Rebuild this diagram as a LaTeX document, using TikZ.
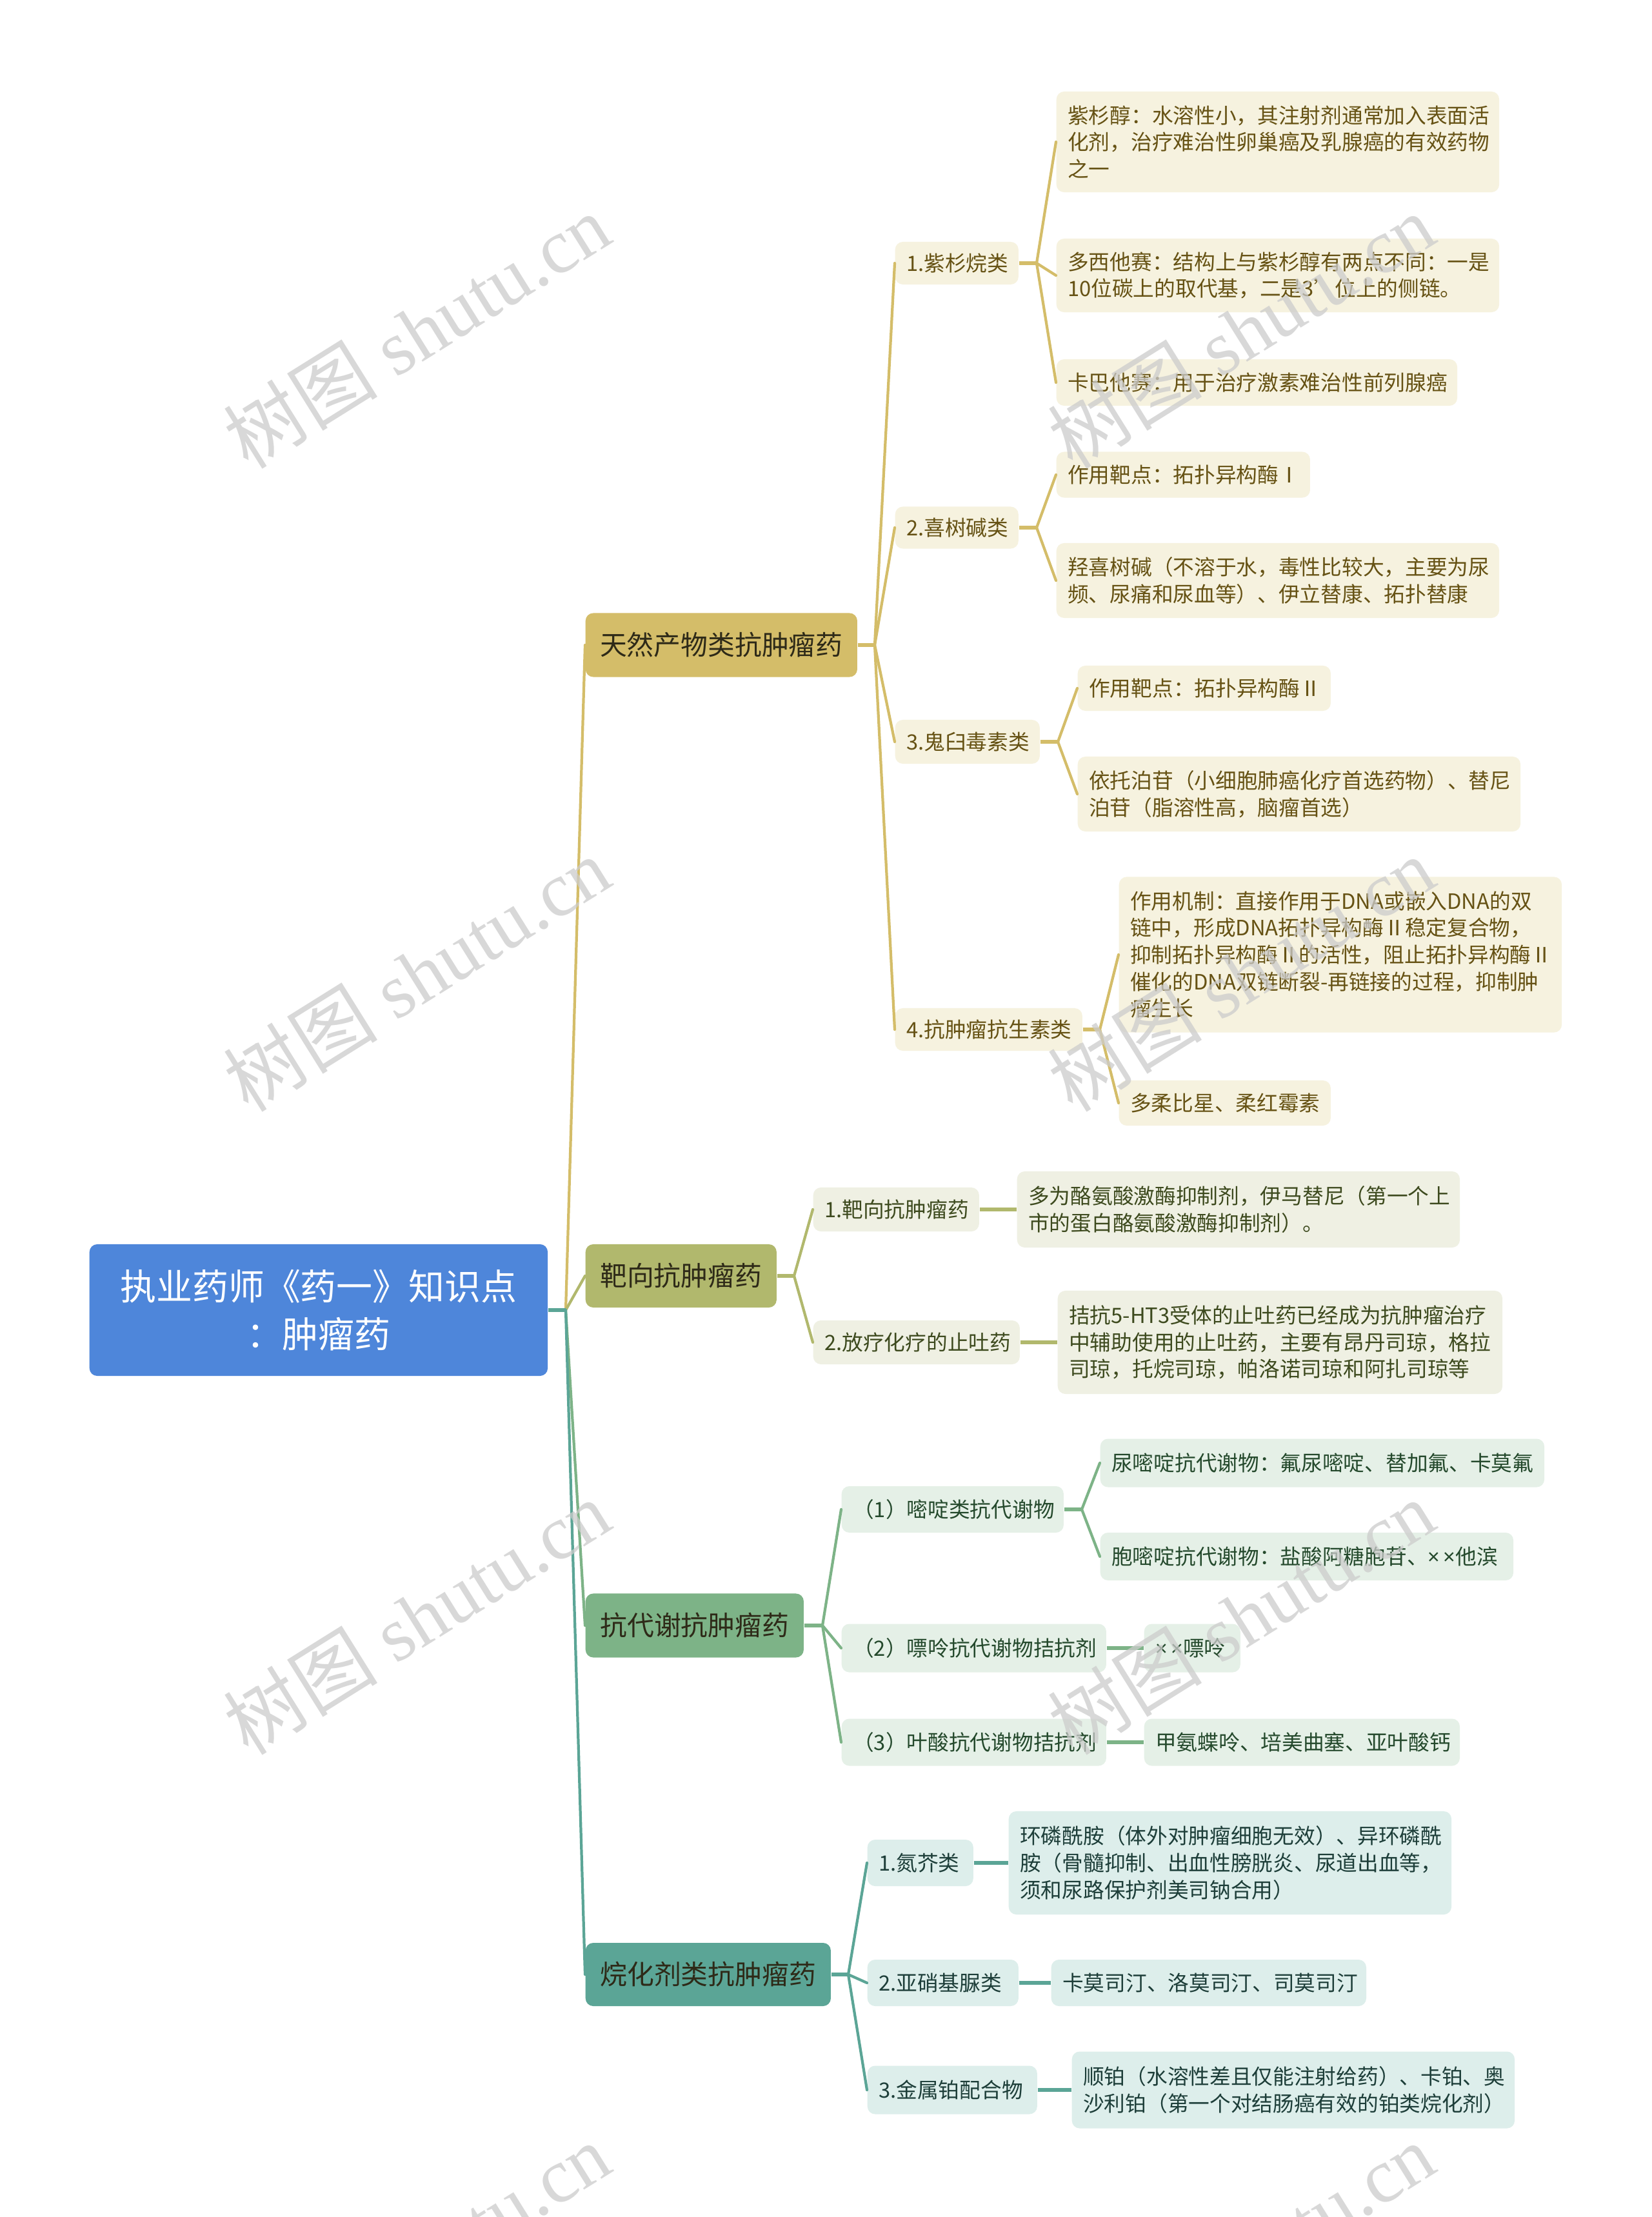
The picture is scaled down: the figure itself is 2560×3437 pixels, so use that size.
\documentclass[tikz,border=0pt]{standalone}
\usepackage{fontspec}
\setmainfont{Noto Sans CJK SC}
\newfontfamily\wmlatin{Liberation Serif}
\newfontfamily\wmcjk{Noto Sans CJK SC}
\newfontfamily\latinf{Noto Sans}
\definecolor{rootc}{HTML}{4E86DA}
\definecolor{goldc}{HTML}{D4BD69}
\definecolor{goldl}{HTML}{F6F2DF}
\definecolor{goldt}{HTML}{665214}
\definecolor{olivec}{HTML}{B1B86D}
\definecolor{olivel}{HTML}{EFF0E3}
\definecolor{olivet}{HTML}{3D4A1E}
\definecolor{greenc}{HTML}{7DB387}
\definecolor{greenl}{HTML}{E5F0E7}
\definecolor{greent}{HTML}{24492C}
\definecolor{tealc}{HTML}{5BA596}
\definecolor{teall}{HTML}{DDEEEB}
\definecolor{tealt}{HTML}{1D3E39}
\definecolor{maint}{HTML}{2E2A18}
\tikzset{
  box/.style={rounded corners=0.12cm, inner ysep=0pt, inner xsep=0.175cm, anchor=west, align=left},
  leaffont/.style={font=\fontsize{9.3}{11.85}\selectfont},
  goldbox/.style={box, leaffont, fill=goldl, text=goldt},
  olivebox/.style={box, leaffont, fill=olivel, text=olivet},
  greenbox/.style={box, leaffont, fill=greenl, text=greent},
  tealbox/.style={box, leaffont, fill=teall, text=tealt},
  mainbox/.style={box, align=center, font=\fontsize{11.9}{14}\selectfont, text=maint},
  conn/.style={line width=1.2pt, line join=round, line cap=round},
  stub/.style={line width=1.6pt, line cap=butt},
  wm/.style={rotate=32, text=black!20, opacity=0.75, inner sep=0pt}
}
\begin{document}
\begin{tikzpicture}[x=0.01cm,y=-0.01cm]
\fill[white] (0,0) rectangle (2560,3437);
\useasboundingbox (0,0) rectangle (2560,3437);

% ---------- root ----------
\node[box, align=center, fill=rootc, text=white, minimum width=7.10cm, minimum height=2.04cm,
      font=\fontsize{15.9}{21.2}\selectfont] (root) at (138,2031) {执业药师《药一》知识点\\：肿瘤药};

% ---------- main branches ----------
\node[mainbox, fill=goldc, minimum width=4.21cm, minimum height=0.99cm] (nat) at (907,1000) {天然产物类抗肿瘤药};
\node[mainbox, fill=olivec, minimum width=2.96cm, minimum height=0.98cm] (tar) at (907,1978) {靶向抗肿瘤药};
\node[mainbox, fill=greenc, minimum width=3.38cm, minimum height=0.99cm] (met) at (907,2520) {抗代谢抗肿瘤药};
\node[mainbox, fill=tealc, minimum width=3.80cm, minimum height=0.98cm] (alk) at (907,3061) {烷化剂类抗肿瘤药};

% ---------- natural products ----------
\node[goldbox, text width=1.56cm, minimum height=0.66cm] (n1) at (1387,408) {1.紫杉烷类};
\node[goldbox, text width=1.56cm, minimum height=0.65cm] (n2) at (1387,818) {2.喜树碱类};
\node[goldbox, text width=1.89cm, minimum height=0.68cm] (n3) at (1387,1150) {3.鬼臼毒素类};
\node[goldbox, text width=2.55cm, minimum height=0.66cm] (n4) at (1387,1596) {4.抗肿瘤抗生素类};

\node[goldbox, text width=6.51cm, minimum height=1.56cm] (l1) at (1637,220) {紫杉醇：水溶性小，其注射剂通常加入表面活\\化剂，治疗难治性卵巢癌及乳腺癌的有效药物\\之一};
\node[goldbox, text width=6.51cm, minimum height=1.14cm] (l2) at (1637,427) {多西他赛：结构上与紫杉醇有两点不同：一是\\10位碳上的取代基，二是3’位上的侧链。};
\node[goldbox, text width=5.86cm, minimum height=0.72cm] (l3) at (1637,593) {卡巴他赛：用于治疗激素难治性前列腺癌};
\node[goldbox, text width=3.58cm, minimum height=0.71cm] (l4) at (1637,736) {作用靶点：拓扑异构酶Ⅰ};
\node[goldbox, text width=6.51cm, minimum height=1.16cm] (l5) at (1637,900) {羟喜树碱（不溶于水，毒性比较大，主要为尿\\频、尿痛和尿血等）、伊立替康、拓扑替康};
\node[goldbox, text width=3.57cm, minimum height=0.70cm] (l6) at (1670,1067) {作用靶点：拓扑异构酶Ⅱ};
\node[goldbox, text width=6.51cm, minimum height=1.16cm] (l7) at (1670,1231) {依托泊苷（小细胞肺癌化疗首选药物）、替尼\\泊苷（脂溶性高，脑瘤首选）};
\node[goldbox, text width=6.51cm, minimum height=2.41cm] (l8) at (1734,1480) {作用机制：直接作用于DNA或嵌入DNA的双\\链中，形成DNA拓扑异构酶Ⅱ稳定复合物，\\抑制拓扑异构酶Ⅱ的活性，阻止拓扑异构酶Ⅱ\\催化的DNA双链断裂-再链接的过程，抑制肿\\瘤生长};
\node[goldbox, text width=2.93cm, minimum height=0.70cm] (l9) at (1734,1710) {多柔比星、柔红霉素};

% ---------- targeted ----------
\node[olivebox, text width=2.22cm, minimum height=0.68cm] (t1) at (1260,1875) {1.靶向抗肿瘤药};
\node[olivebox, text width=2.85cm, minimum height=0.68cm] (t2) at (1260,2081) {2.放疗化疗的止吐药};
\node[olivebox, text width=6.51cm, minimum height=1.18cm] (tl1) at (1576,1875) {多为酪氨酸激酶抑制剂，伊马替尼（第一个上\\市的蛋白酪氨酸激酶抑制剂）。};
\node[olivebox, text width=6.54cm, minimum height=1.60cm] (tl2) at (1639,2081) {拮抗5-HT3受体的止吐药已经成为抗肿瘤治疗\\中辅助使用的止吐药，主要有昂丹司琼，格拉\\司琼，托烷司琼，帕洛诺司琼和阿扎司琼等};

% ---------- antimetabolites ----------
\node[greenbox, text width=3.09cm, minimum height=0.72cm] (m1) at (1304,2340) {（1）嘧啶类抗代谢物};
\node[greenbox, text width=3.75cm, minimum height=0.75cm] (m2) at (1304,2555) {（2）嘌呤抗代谢物拮抗剂};
\node[greenbox, text width=3.75cm, minimum height=0.73cm] (m3) at (1304,2701) {（3）叶酸抗代谢物拮抗剂};
\node[greenbox, text width=6.53cm, minimum height=0.75cm] (ml1) at (1705,2268) {尿嘧啶抗代谢物：氟尿嘧啶、替加氟、卡莫氟};
\node[greenbox, text width=6.05cm, minimum height=0.74cm] (ml2) at (1705,2413) {胞嘧啶抗代谢物：盐酸阿糖胞苷、{\latinf ×\,×}他滨};
\node[greenbox, text width=1.14cm, minimum height=0.75cm] (ml3) at (1773,2555) {{\latinf ×\,×}嘌呤};
\node[greenbox, text width=4.54cm, minimum height=0.73cm] (ml4) at (1773,2701) {甲氨蝶呤、培美曲塞、亚叶酸钙};

% ---------- alkylating ----------
\node[tealbox, text width=1.29cm, minimum height=0.72cm] (a1) at (1344,2888) {1.氮芥类};
\node[tealbox, text width=1.99cm, minimum height=0.72cm] (a2) at (1344,3074) {2.亚硝基脲类};
\node[tealbox, text width=2.28cm, minimum height=0.75cm] (a3) at (1344,3240) {3.金属铂配合物};
\node[tealbox, text width=6.51cm, minimum height=1.60cm] (al1) at (1563,2888) {环磷酰胺（体外对肿瘤细胞无效）、异环磷酰\\胺（骨髓抑制、出血性膀胱炎、尿道出血等，\\须和尿路保护剂美司钠合用）};
\node[tealbox, text width=4.53cm, minimum height=0.72cm] (al2) at (1629,3074) {卡莫司汀、洛莫司汀、司莫司汀};
\node[tealbox, text width=6.51cm, minimum height=1.19cm] (al3) at (1661,3240) {顺铂（水溶性差且仅能注射给药）、卡铂、奥\\沙利铂（第一个对结肠癌有效的铂类烷化剂）};

% ---------- junctions ----------
\coordinate (jr) at (877,2031);
\coordinate (jn) at (1356,1000);
\coordinate (jn1) at (1607,408);
\coordinate (jn2) at (1607,818);
\coordinate (jn3) at (1640,1150);
\coordinate (jn4) at (1705,1596);
\coordinate (jt) at (1231,1978);
\coordinate (jm) at (1275,2520);
\coordinate (jm1) at (1677,2340);
\coordinate (ja) at (1315,3061);

% ---------- connectors ----------
\draw[conn, goldc] (jr) -- (nat.west);
\draw[conn, olivec] (jr) -- (tar.west);
\draw[conn, greenc] (jr) -- (met.west);
\draw[conn, tealc] (jr) -- (alk.west);
\draw[stub, tealc] (root.east) -- (jr);

\foreach \c in {n1,n2,n3,n4} \draw[conn, goldc] (jn) -- (\c.west);
\draw[stub, goldc] (nat.east) -- (jn);
\foreach \c in {l1,l2,l3} \draw[conn, goldc] (jn1) -- (\c.west);
\draw[stub, goldc] (n1.east) -- (jn1);
\foreach \c in {l4,l5} \draw[conn, goldc] (jn2) -- (\c.west);
\draw[stub, goldc] (n2.east) -- (jn2);
\foreach \c in {l6,l7} \draw[conn, goldc] (jn3) -- (\c.west);
\draw[stub, goldc] (n3.east) -- (jn3);
\foreach \c in {l8,l9} \draw[conn, goldc] (jn4) -- (\c.west);
\draw[stub, goldc] (n4.east) -- (jn4);

\foreach \c in {t1,t2} \draw[conn, olivec] (jt) -- (\c.west);
\draw[stub, olivec] (tar.east) -- (jt);
\draw[stub, olivec] (t1.east) -- (tl1.west);
\draw[stub, olivec] (t2.east) -- (tl2.west);

\foreach \c in {m1,m2,m3} \draw[conn, greenc] (jm) -- (\c.west);
\draw[stub, greenc] (met.east) -- (jm);
\foreach \c in {ml1,ml2} \draw[conn, greenc] (jm1) -- (\c.west);
\draw[stub, greenc] (m1.east) -- (jm1);
\draw[stub, greenc] (m2.east) -- (ml3.west);
\draw[stub, greenc] (m3.east) -- (ml4.west);

\foreach \c in {a1,a2,a3} \draw[conn, tealc] (ja) -- (\c.west);
\draw[stub, tealc] (alk.east) -- (ja);
\draw[stub, tealc] (a1.east) -- (al1.west);
\draw[stub, tealc] (a2.east) -- (al2.west);
\draw[stub, tealc] (a3.east) -- (al3.west);

% ---------- watermarks ----------
\foreach \wx in {646,1924} {
  \foreach \wy in {513,1510,2507,3504} {
    \node[wm] at (\wx,\wy) {\fontsize{34}{34}\selectfont\wmcjk 树图\hspace{0.25em}\wmlatin shutu.cn};
  }
}
\end{tikzpicture}
\end{document}
